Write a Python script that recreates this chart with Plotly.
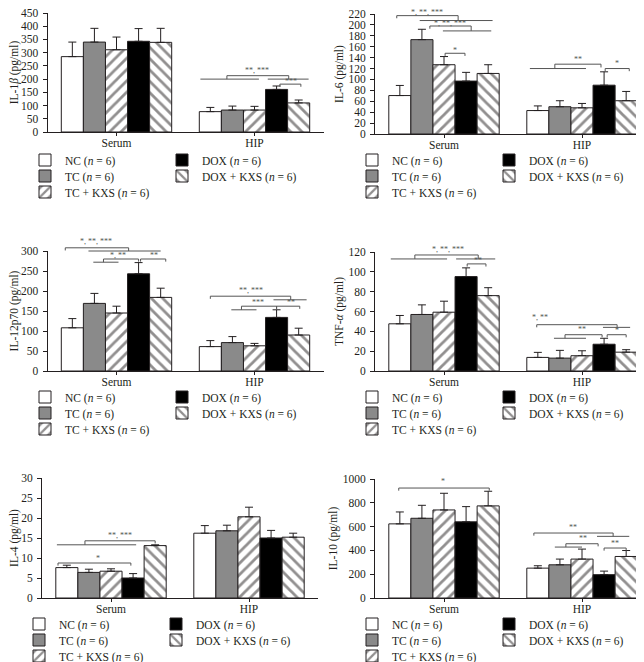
import plotly.graph_objects as go

W, H = 644, 662

CATEGORIES = ["Serum", "HIP"]
GROUPS = ["NC", "TC", "TC + KXS", "DOX", "DOX + KXS"]

# ---- values (mean) and upper error bars, order = GROUPS ----
IL1B_SERUM = [285, 340, 311, 343, 339]
IL1B_SERUM_ERR = [55, 52, 48, 48, 53]
IL1B_HIP = [77, 83, 83, 161, 110]
IL1B_HIP_ERR = [16, 15, 14, 13, 11]

IL6_SERUM = [70.5, 173, 127, 97, 111]
IL6_SERUM_ERR = [18.5, 19, 15, 16, 16]
IL6_HIP = [43, 50, 48, 89.5, 61]
IL6_HIP_ERR = [8.5, 11, 8, 24.5, 17]

IL12_SERUM = [108, 169, 145, 243, 184]
IL12_SERUM_ERR = [23, 25, 17, 28, 23]
IL12_HIP = [61, 71, 63, 134, 90]
IL12_HIP_ERR = [15, 15, 6, 19, 17]

TNF_SERUM = [47.6, 57, 59.3, 95.2, 76]
TNF_SERUM_ERR = [8.4, 9.7, 11.1, 8.8, 8]
TNF_HIP = [13.7, 13, 15.4, 27, 19]
TNF_HIP_ERR = [5.1, 7.8, 5, 6, 2.5]

IL4_SERUM = [7.6, 6.4, 6.7, 5.0, 13.1]
IL4_SERUM_ERR = [0.6, 0.8, 0.6, 1.1, 0.2]
IL4_HIP = [16.2, 16.8, 20.3, 15.0, 15.2]
IL4_HIP_ERR = [1.9, 1.4, 2.4, 1.9, 1.0]

IL10_SERUM = [623, 670, 740, 640, 774]
IL10_SERUM_ERR = [100, 109, 140, 128, 123]
IL10_HIP = [251, 279, 327, 196, 349]
IL10_HIP_ERR = [20, 48, 84, 30, 50]

# ---- y tick labels ----
IL1B_TICKS = [0, 50, 100, 150, 200, 250, 300, 350, 400, 450]
IL6_TICKS = [0, 20, 40, 60, 80, 100, 120, 140, 160, 180, 200, 220]
IL12_TICKS = [0, 50, 100, 150, 200, 250, 300]
TNF_TICKS = [0, 20, 40, 60, 80, 100, 120]
IL4_TICKS = [0, 5, 10, 15, 20, 25, 30]
IL10_TICKS = [0, 200, 400, 600, 800, 1000]

# ---- significance markings: spans (group, slot_from, slot_to, y) ----
# brackets (group, slot_from, slot_to, y, label, label_slot, label_y, drop_left, drop_right)
PANELS = [
    dict(title="IL-1<i>β</i> (pg/ml)", serum=IL1B_SERUM, serr=IL1B_SERUM_ERR, hip=IL1B_HIP, herr=IL1B_HIP_ERR,
         ticks=IL1B_TICKS, xpx=(39.5, 315.5), ypx=(5, 124), legx=(40, 177), legy=(160, 176, 192),
         spans=[(1, -0.45, 2.2, 200), (1, 2.6, 4.45, 200)],
         brackets=[(1, 0.75, 3.55, 213, "**, ***", 2.1, 234, 13, 13),
                   (1, 3.15, 4.1, 181, "***", 3.64, 192, None, None)]),
    dict(title="IL-6 (pg/ml)", serum=IL6_SERUM, serr=IL6_SERUM_ERR, hip=IL6_HIP, herr=IL6_HIP_ERR,
         ticks=IL6_TICKS, xpx=(367, 643), ypx=(6, 126), legx=(367, 505), legy=(160, 176, 192),
         spans=[(0, 0.9, 4.2, 208), (0, 1.95, 4.14, 189), (1, -0.36, 2.18, 120)],
         brackets=[(0, -0.14, 2.64, 217, "*, **, ***", 1.23, 223, None, 9),
                   (0, 1.36, 3.23, 198, "*, **, ***", 2.27, 203, 5, 9),
                   (0, 2.05, 2.95, 148, "*", 2.5, 154, None, None),
                   (1, 0.77, 2.86, 128, "**", 1.82, 136, 8, 6),
                   (1, 3.05, 4.14, 120, "*", 3.59, 130, None, None)]),
    dict(title="IL-12p70 (pg/ml)", serum=IL12_SERUM, serr=IL12_SERUM_ERR, hip=IL12_HIP, herr=IL12_HIP_ERR,
         ticks=IL12_TICKS, xpx=(39.5, 315.5), ypx=(243, 363), legx=(40, 177), legy=(397, 413, 429),
         spans=[(0, 0.73, 4.0, 300), (0, 0.95, 2.09, 272), (1, 2.86, 4.36, 178), (1, 0.95, 2.09, 153)],
         brackets=[(0, -0.32, 2.55, 308, "*, **, ***", 1.09, 325, None, 8),
                   (0, 1.41, 3.0, 280, "*, **", 2.09, 290, 8, None),
                   (0, 3.09, 4.23, 280, "**", 3.68, 290, None, None),
                   (1, 0, 3.64, 187, "**, ***", 1.82, 201, None, 9),
                   (1, 1.41, 3.0, 162, "***", 2.18, 172, 9, None),
                   (1, 3.0, 4.05, 162, "**", 3.64, 172, None, None)]),
    dict(title="TNF-<i>α</i> (pg/ml)", serum=TNF_SERUM, serr=TNF_SERUM_ERR, hip=TNF_HIP, herr=TNF_HIP_ERR,
         ticks=TNF_TICKS, xpx=(367, 643), ypx=(244, 363), legx=(367, 505), legy=(397, 413, 429),
         spans=[(0, -0.41, 2.14, 113), (0, 2.55, 4.32, 113), (1, 2.95, 4.18, 44), (1, 0.73, 2.18, 33)],
         brackets=[(0, 0.68, 3.55, 117, "*, **, ***", 2.18, 123, 4, 4),
                   (0, 3.05, 3.9, 108, "**", 3.55, 111, None, None),
                   (1, -0.05, 3.59, 46.7, "*, **", 0.09, 54, None, 2.7),
                   (1, 1.23, 2.91, 36.6, "**", 2.0, 41.6, 3.6, None),
                   (1, 3.14, 4.0, 36.6, "*", 3.59, 40.6, None, None)]),
    dict(title="IL-4 (pg/ml)", serum=IL4_SERUM, serr=IL4_SERUM_ERR, hip=IL4_HIP, herr=IL4_HIP_ERR,
         ticks=IL4_TICKS, xpx=(34, 310), ypx=(470, 590), legx=(34, 172), legy=(624, 640, 656),
         spans=[(0, -0.45, 3.14, 13.3)],
         brackets=[(0, 0.82, 4.0, 14.3, "**, ***", 2.41, 15.7, 1.0, None),
                   (0, -0.4, 2.9, 8.75, "*", 1.41, 10, None, None)]),
    dict(title="IL-10 (pg/ml)", serum=IL10_SERUM, serr=IL10_SERUM_ERR, hip=IL10_HIP, herr=IL10_HIP_ERR,
         ticks=IL10_TICKS, xpx=(367, 643), ypx=(471, 590), legx=(367, 505), legy=(624, 640, 656),
         spans=[(1, 2.68, 4.14, 518), (1, 0.77, 2.0, 428)],
         brackets=[(0, -0.05, 4.05, 924, "*", 1.95, 975, None, None),
                   (1, -0.18, 3.41, 546, "**", 1.59, 594, None, 28),
                   (1, 1.27, 2.73, 456, "**", 2.05, 498, 28, None),
                   (1, 3.0, 4.0, 420, "**", 3.5, 456, None, None)]),
]

FONT = "Liberation Serif"
INK = "#231f20"
GRAY = "#8a8a8a"
LINE = "#555555"
FS = 11.5

STYLES = {
    "NC": dict(color="white"),
    "TC": dict(color=GRAY),
    "TC + KXS": dict(color="white", pattern=dict(shape="/", size=8, solidity=0.35, fgcolor=INK, bgcolor="white", fillmode="overlay")),
    "DOX": dict(color="black"),
    "DOX + KXS": dict(color="white", pattern=dict(shape="\\", size=8, solidity=0.35, fgcolor=INK, bgcolor="white", fillmode="overlay")),
}
# legend row for each group: row 0 -> NC, DOX ; row 1 -> TC, DOX+KXS ; row 2 -> TC+KXS
LEG_ROW = {"NC": 0, "DOX": 0, "TC": 1, "DOX + KXS": 1, "TC + KXS": 2}

fig = go.Figure()
layout = dict(
    width=W, height=H, margin=dict(l=0, r=0, t=0, b=0, autoexpand=False),
    paper_bgcolor="white", plot_bgcolor="white",
    font=dict(family=FONT, size=FS, color=INK),
    barmode="group", bargap=0.2, bargroupgap=0,
    showlegend=True,
)
shapes = []
annotations = []


def slot_x(g, s):
    return g - 0.32 + 0.16 * s


for p, P in enumerate(PANELS):
    ax = "" if p == 0 else str(p + 1)
    xa, ya = "x" + ax, "y" + ax
    ymax = P["ticks"][-1]
    for i, g in enumerate(GROUPS):
        lid = p * 3 + LEG_ROW[g] + 1
        lname = "legend" if lid == 1 else f"legend{lid}"
        fig.add_trace(go.Bar(
            x=[0, 1], y=[P["serum"][i], P["hip"][i]],
            name=f"{g} (<i>n</i> = 6)",
            marker=dict(line=dict(color=INK, width=1), **STYLES[g]),
            error_y=dict(type="data", symmetric=False,
                         array=[P["serr"][i], P["herr"][i]], arrayminus=[0, 0],
                         color=INK, thickness=1, width=4),
            xaxis=xa, yaxis=ya, legend=lname, offsetgroup=str(i),
            hoverinfo="skip",
        ))
    x0, x1 = P["xpx"][0] / W, P["xpx"][1] / W
    y0, y1 = 1 - P["ypx"][1] / H, 1 - P["ypx"][0] / H
    layout["xaxis" + ax] = dict(
        domain=[x0, x1], range=[-0.5, 1.5], anchor=ya,
        tickvals=[0, 1], ticktext=CATEGORIES, ticks="outside", ticklen=3,
        tickcolor=INK, showline=True, linecolor=INK, linewidth=1,
        showgrid=False, zeroline=False, fixedrange=True,
        tickfont=dict(size=FS), ticklabelstandoff=-3,
    )
    layout["yaxis" + ax] = dict(
        domain=[y0, y1], range=[0, ymax], anchor=xa,
        tickvals=P["ticks"], ticks="outside", ticklen=4, tickcolor=INK,
        showline=True, linecolor=INK, linewidth=1, showgrid=False, zeroline=False,
        fixedrange=True, tickfont=dict(size=FS), ticklabelstandoff=2,
        ticklabeloverflow="allow",
        title=dict(text=P["title"], font=dict(size=FS), standoff=2),
    )
    dref = ya + " domain"
    for (g, s1, s2, yv) in P["spans"]:
        shapes.append(dict(type="line", xref=xa, yref=dref,
                           x0=slot_x(g, s1), x1=slot_x(g, s2), y0=yv / ymax, y1=yv / ymax,
                           line=dict(color=LINE, width=1)))
    for (g, s1, s2, yv, lab, ls, ly, dl, dr) in P["brackets"]:
        d0 = 0.022 * ymax
        dl = d0 if dl is None else dl
        dr = d0 if dr is None else dr
        xa1, xa2 = slot_x(g, s1), slot_x(g, s2)
        path = (f"M{xa1},{(yv - dl) / ymax} L{xa1},{yv / ymax} "
                f"L{xa2},{yv / ymax} L{xa2},{(yv - dr) / ymax}")
        shapes.append(dict(type="path", xref=xa, yref=dref, path=path,
                           line=dict(color=LINE, width=1)))
        annotations.append(dict(text=lab, xref=xa, yref=dref, x=slot_x(g, ls), y=ly / ymax,
                                showarrow=False, font=dict(size=8, color=LINE),
                                xanchor="center", yanchor="middle"))
    for r in range(3):
        lid = p * 3 + r + 1
        lname = "legend" if lid == 1 else f"legend{lid}"
        layout[lname] = dict(
            x=(P["legx"][0] - 23) / W, xanchor="left",
            y=1 - (P["legy"][r] - 8) / H, yanchor="middle",
            orientation="h", entrywidth=92, entrywidthmode="pixels",
            bgcolor="rgba(0,0,0,0)", borderwidth=0,
            font=dict(family=FONT, size=FS, color=INK),
            itemclick=False, itemdoubleclick=False,
        )

layout["shapes"] = shapes
layout["annotations"] = annotations
fig.update_layout(**layout)
fig.write_html("out.html")
